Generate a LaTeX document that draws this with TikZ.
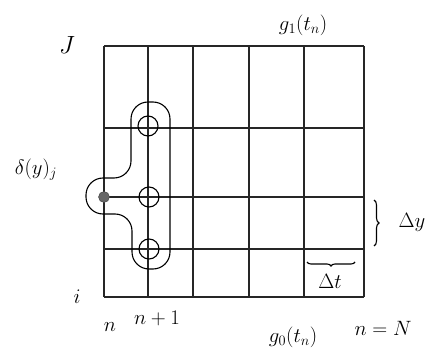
\documentclass[tikz,border=0pt]{standalone}
\usepackage{amsmath,amssymb}
\usepackage{tikz}
\usetikzlibrary{decorations.pathreplacing}

\begin{document}
\begin{tikzpicture}[
  x=1pt, y=1pt,
  gridline/.style={line width=1.3pt, black!85},
  node point/.style={draw, circle, line width=1.1pt, minimum size=20pt, inner sep=0pt},
  lbl/.style={font=\huge, inner sep=1pt},
]
  \useasboundingbox (0,0) rectangle (430,356);
  % mesh
  \foreach \x in {104,148,193,249,304,364} {
    \draw[gridline] (\x,59) -- (\x,310);
  }
  \foreach \y in {310,228,159,107,59} {
    \draw[gridline] (104,\y) -- (364,\y);
  }
  % stencil
  \draw[line width=1.1pt, rounded corners=17pt]
    (150,254) -- (170,254) -- (170,87) -- (132,87) -- (132,142)
    -- (86,142) -- (86,178) -- (131,178) -- (131,254) -- (150,254);
  \node[node point] (cA) at (148,230) {};
  \node[node point] (cB) at (149,159) {};
  \node[node point] (cC) at (149,107) {};
  \node[circle, fill=black!60, draw=black!75, minimum size=11pt, inner sep=0pt]
    (dot) at (104,159) {};
  % labels
  \node[lbl, font=\Huge] (lblJ) at (67,311) {$J$};
  \node[lbl] (lblgone) at (303,331) {$g_1(t_n)$};
  \node[lbl] (lbldelta) at (36,186) {$\delta(y)_j$};
  \node[lbl] (lbli) at (77,59) {$i$};
  \node[lbl] (lbln) at (110,29) {$n$};
  \node[lbl] (lblnone) at (157,38) {$n+1$};
  \node[lbl] (lblgzero) at (293,19) {$g_0(t_n)$};
  \node[lbl] (lblnN) at (383,28) {$n=N$};
  % spacings
  \coordinate (dyTop) at (374,156);
  \coordinate (dyBot) at (374,110);
  \draw[line width=1.1pt, decorate, decoration={brace, amplitude=5pt}]
    (dyTop) -- (dyBot);
  \node[lbl] (lbldy) at (412,134) {$\Delta y$};
  \coordinate (dtL) at (307,94);
  \coordinate (dtR) at (355,94);
  \draw[line width=1.1pt, decorate, decoration={brace, mirror, amplitude=4pt}]
    (dtL) -- (dtR);
  \node[lbl] (lbldt) at (330,75) {$\Delta t$};
\end{tikzpicture}
\end{document}
